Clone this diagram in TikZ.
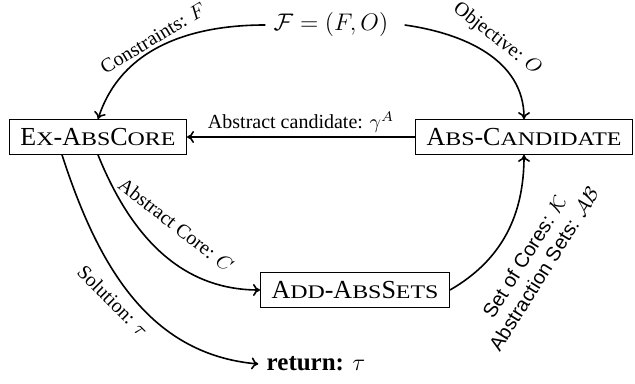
\documentclass[tikz,border=0pt]{standalone}
\usepackage{fontspec}
\setmainfont{Liberation Serif}
\setsansfont{Liberation Sans}
\usetikzlibrary{arrows.meta}
\newcommand{\fsc}[2]{#1\scalebox{0.92}[0.74]{#2}}
\begin{document}
\begin{tikzpicture}[x=0.5pt,y=0.5pt,
  box/.style={draw, line width=0.5pt, inner xsep=5.5pt, inner ysep=4.3pt,
    text height=8.8pt, text depth=0pt, font=\fontsize{13}{15}\selectfont},
  lab/.style={font=\fontsize{10}{12}\selectfont, inner sep=1pt},
  arr/.style={-{To[length=3.5pt,width=6pt]}, line width=0.8pt}]
\useasboundingbox (0,0) rectangle (635,384);
\node[inner xsep=4pt, inner ysep=3pt, font=\fontsize{13.2}{15}\selectfont] (F) at (331,359) {$\mathcal{F}=(F,O)$};
\node[box] (ex) at (98,247) {\fsc{E}{X}-\fsc{A}{BS}\fsc{C}{ORE}};
\node[box] (cand) at (524,247) {\fsc{A}{BS}-\fsc{C}{ANDIDATE}};
\node[box] (add) at (355,94) {\fsc{A}{DD}-\fsc{A}{BS}\fsc{S}{ETS}};
\node[font=\fontsize{12.5}{14}\selectfont, inner sep=4pt] (ret) at (316,20) {\textbf{return:} $\tau$};

\draw[arr] (F.west) to[out=180,in=72] (ex.north);
\draw[arr] ([xshift=4pt]F.east) to[out=-8,in=90] (cand.north);
\draw[arr] (cand.west) -- node[lab, above=1pt] {Abstract candidate: $\gamma^A$} (ex.east);
\draw[arr] (ex.south) to[out=-68,in=180] (add.west);
\draw[arr] ([xshift=-18pt]ex.south) to[out=-72,in=175] (ret.west);
\draw[arr] (add.east) to[out=30,in=-90] (cand.south);

\node[lab, rotate=31] (lcons) at (153,346) {Constraints: $F$};
\node[lab, rotate=-38] (lobj) at (497,345) {Objective: $O$};
\node[lab, rotate=-38] (lcore) at (176,159) {Abstract Core: $C$};
\node[lab, rotate=-45] (lsol) at (113,83) {Solution: $\tau$};
\node[lab, rotate=58, align=center, font=\sffamily\fontsize{10}{11.5}\selectfont] (lsets) at (534,121)
  {Set of Cores: $\mathcal{K}$\\Abstraction Sets: $\mathcal{AB}$};
\end{tikzpicture}
\end{document}
